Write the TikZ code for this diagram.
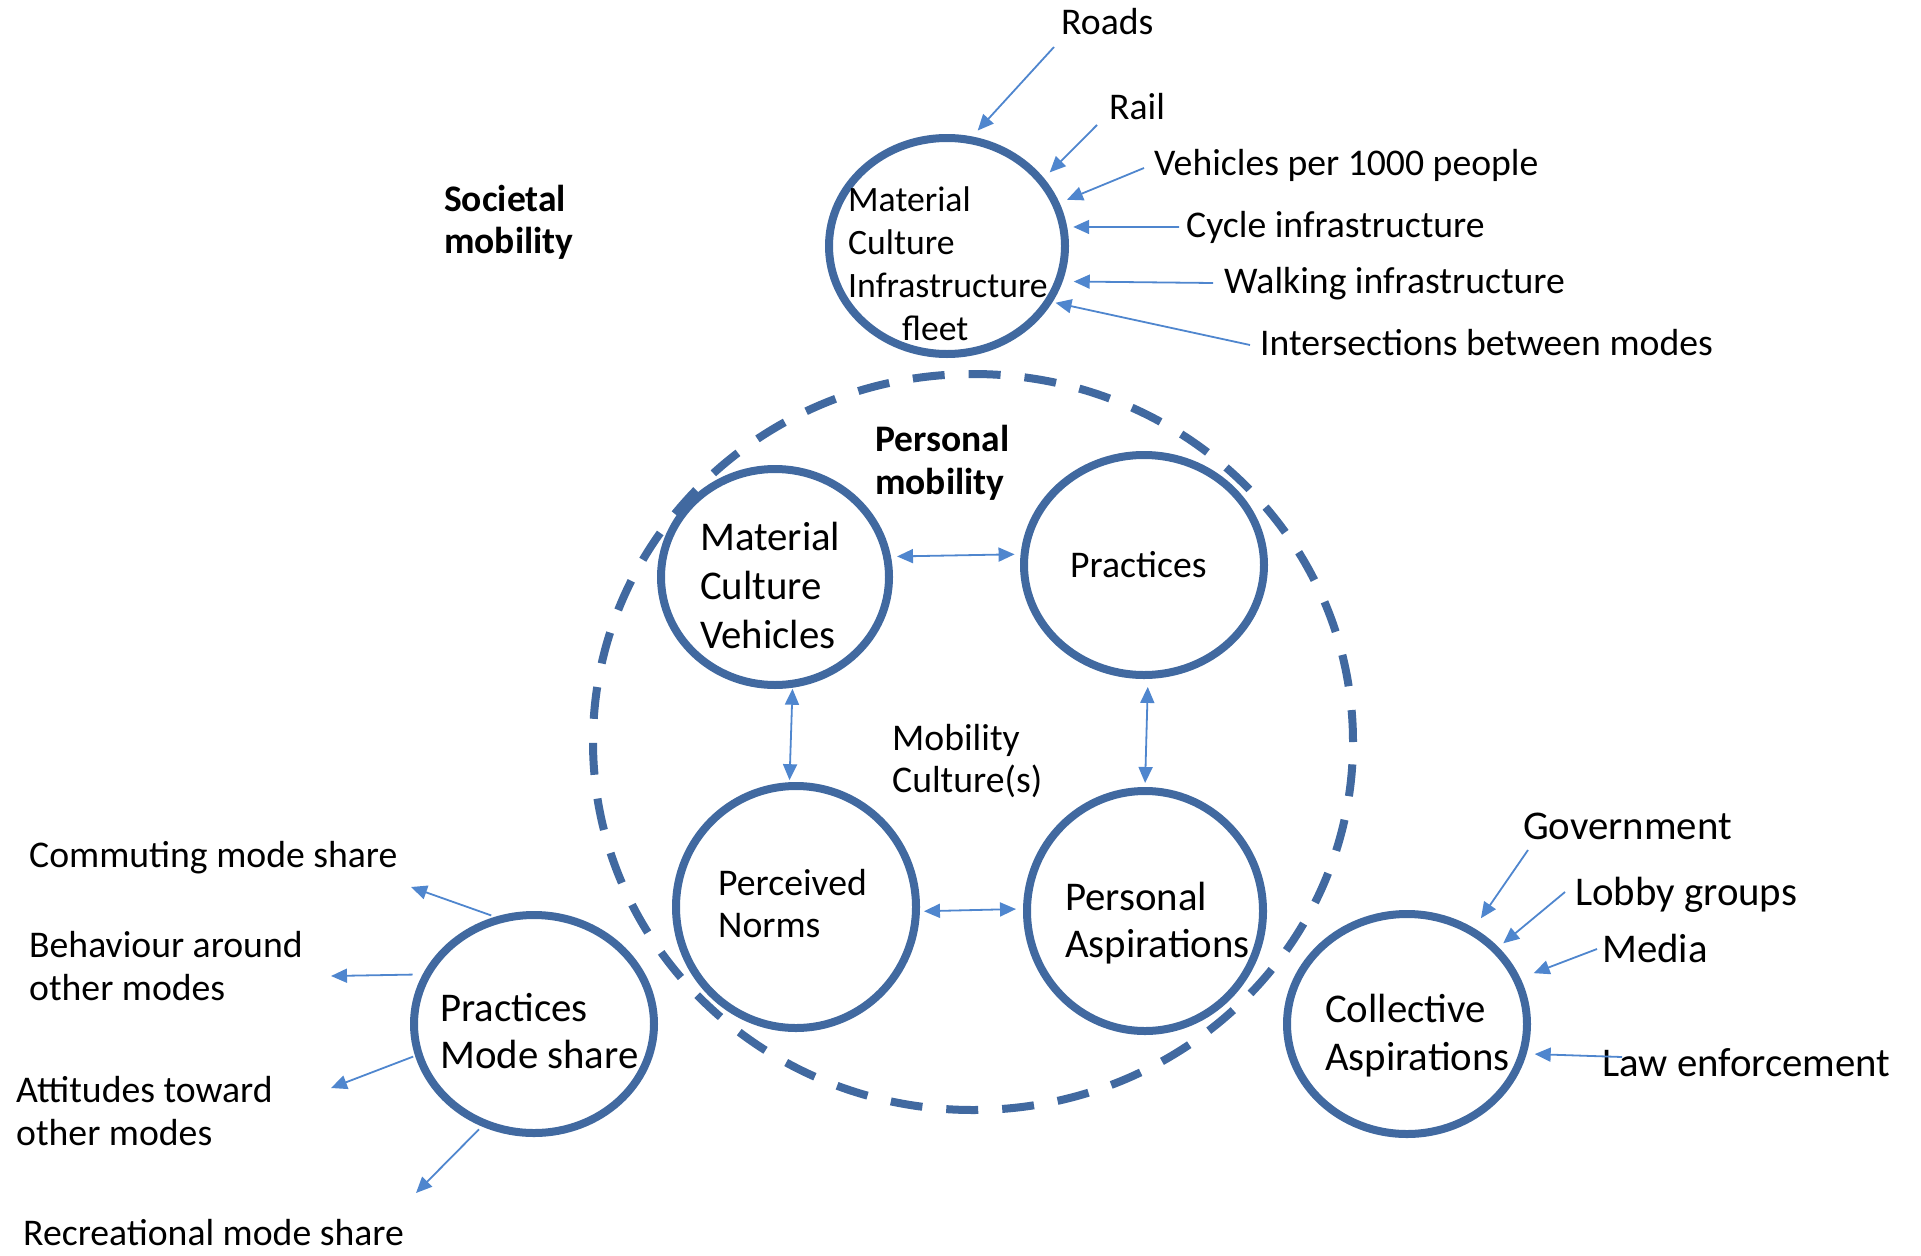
\documentclass[tikz,border=0pt]{standalone}
\usepackage{fontspec}
\setmainfont{Carlito}
\usetikzlibrary{arrows.meta,shapes.geometric}

\definecolor{ringblue}{RGB}{65,105,160}
\definecolor{arrowblue}{RGB}{79,134,206}

\begin{document}
\begin{tikzpicture}[x=1pt, y=-1pt,
  ring/.style={ellipse, draw=ringblue, line width=8pt, inner sep=0pt},
  dashring/.style={ring, dash pattern=on 32pt off 24pt},
  txt/.style={anchor=base west, inner sep=0pt, align=left, font=\fontsize{37.7}{43}\selectfont},
  bigtxt/.style={txt, font=\fontsize{40.8}{48}\selectfont},
  feed/.style={draw=arrowblue, line width=1.8pt, -{Triangle[length=16pt, width=14pt]}, shorten >=7pt},
  link/.style={feed, {Triangle[length=16pt, width=14pt]}-{Triangle[length=16pt, width=14pt]}}
]
\useasboundingbox (0,0) rectangle (1921,1255);

\node[dashring, minimum width=760pt, minimum height=736pt] (culture) at (973,742) {};

\node[ring, minimum width=236pt, minimum height=216pt] (infra) at (947,246) {};
\node[txt, font=\fontsize{35.7}{42.7}\selectfont] (infra-t) at (848,340) {Material\\Culture\\Infrastructure\\\hspace*{54pt}fleet};
\node[txt, font=\bfseries\fontsize{37.5}{42}\selectfont] (societal) at (444,253) {Societal\\mobility};

\node[txt] (roads) at (1061,35) {Roads};
\node[txt] (rail) at (1109,119) {Rail};
\node[txt] (vehicles) at (1154,175) {Vehicles per 1000 people};
\node[txt] (cycle) at (1186,237) {Cycle infrastructure};
\node[txt] (walking) at (1224,293) {Walking infrastructure};
\node[txt] (modes) at (1260,355) {Intersections between modes};

\coordinate (roads-in) at (1054,47);
\coordinate (rail-in) at (1097,125);
\coordinate (vehicles-in) at (1144,168);
\coordinate (cycle-in) at (1179,227);
\coordinate (walking-in) at (1213,283);
\coordinate (modes-in) at (1250,345);

\draw[feed, shorten >=8pt] (roads-in) -- (infra.77.6);
\draw[feed, shorten >=8pt] (rail-in) -- (infra.35.7);
\draw[feed, shorten >=8pt] (vehicles-in) -- (infra.21);
\draw[feed, shorten >=6pt] (cycle-in) -- (infra.9);
\draw[feed, shorten >=11pt] (walking-in) -- (infra.-17.8);
\draw[feed, shorten >=3pt] (modes-in) -- (infra.-28.6);

% personal mobility
\node[ring, minimum width=228pt, minimum height=216pt] (matcult) at (775,577) {};
\node[ring, minimum width=240pt, minimum height=220pt] (practices) at (1144,565) {};
\node[ring, minimum width=240pt, minimum height=242pt] (norms) at (796,907) {};
\node[ring, minimum width=236pt, minimum height=240pt] (aspire) at (1145,911) {};

\node[txt, font=\bfseries\fontsize{37.5}{43}\selectfont] (personal) at (875,494) {Personal\\mobility};
\node[bigtxt, font=\fontsize{40.8}{49}\selectfont] (matcult-t) at (700,648) {Material\\Culture\\Vehicles};
\node[txt] (practices-t) at (1070,577) {Practices};
\node[txt, font=\fontsize{37.7}{42}\selectfont] (mobcult) at (892,792) {Mobility\\Culture(s)};
\node[txt, font=\fontsize{37.7}{42}\selectfont] (norms-t) at (718,937) {Perceived\\Norms};
\node[bigtxt, font=\fontsize{40.8}{47}\selectfont] (aspire-t) at (1065,957) {Personal\\Aspirations};

\draw[link, shorten <=6pt, shorten >=6pt] (matcult.10.7) -- (practices.175);
\draw[link, shorten <=1pt, shorten >=2pt] (matcult.-81.2) -- (norms.93.6);
\draw[link, shorten <=8pt, shorten >=4pt] (practices.-88) -- (aspire.90.7);
\draw[link, shorten <=4pt, shorten >=7pt] (norms.-2.5) -- (aspire.179);

% mode share
\node[ring, minimum width=240pt, minimum height=218pt] (modeshare) at (534,1024) {};
\node[bigtxt, font=\fontsize{40.8}{47}\selectfont] (modeshare-t) at (440,1068) {Practices\\Mode share};

\node[txt] (commute) at (29,867) {Commuting mode share};
\node[txt] (behaviour) at (29,1000) {Behaviour around\\other modes};
\node[txt] (attitude) at (16,1145) {Attitudes toward\\other modes};
\node[txt] (leisure) at (23,1245) {Recreational mode share};

\coordinate (commute-out) at (411,887);
\coordinate (behaviour-out) at (331,976);
\coordinate (attitude-out) at (331,1088);
\coordinate (leisure-out) at (416,1193);

\draw[feed, shorten >=0pt, shorten <=4pt] (modeshare.110.3) -- (commute-out);
\draw[feed, shorten >=0pt, shorten <=10pt] (modeshare.156.7) -- (behaviour-out);
\draw[feed, shorten >=0pt, shorten <=2pt] (modeshare.195.7) -- (attitude-out);
\draw[feed, shorten >=0pt, shorten <=4pt] (modeshare.243) -- (leisure-out);

% collective aspirations
\node[ring, minimum width=240pt, minimum height=220pt] (collective) at (1407,1024) {};
\node[bigtxt] (collective-t) at (1325,1070) {Collective\\Aspirations};

\node[bigtxt] (govt) at (1523,839) {Government};
\node[bigtxt] (lobby) at (1575,905) {Lobby groups};
\node[bigtxt] (media) at (1602,962) {Media};
\node[bigtxt] (law) at (1602,1076) {Law enforcement};

\coordinate (govt-in) at (1528,850);
\coordinate (lobby-in) at (1565,892);
\coordinate (media-in) at (1597,949);
\coordinate (law-in) at (1622,1057);

\draw[feed, shorten >=12pt] (govt-in) -- (collective.55.4);
\draw[feed, shorten >=6pt] (lobby-in) -- (collective.40.2);
\draw[feed, shorten >=14pt] (media-in) -- (collective.22.8);
\draw[feed, shorten >=8pt] (law-in) -- (collective.-14.6);

\end{tikzpicture}
\end{document}
